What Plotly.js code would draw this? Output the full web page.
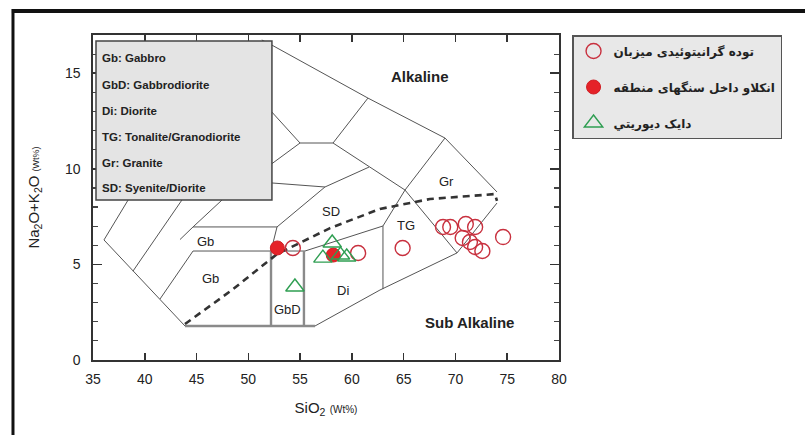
<!DOCTYPE html>
<html><head><meta charset="utf-8">
<script src="https://cdn.plot.ly/plotly-3.0.1.min.js"></script>
<style>html,body{margin:0;padding:0;background:#fff}#chart{width:805px;height:435px}</style>
</head><body><div id="chart"></div>
<script>
// ---- sample data (SiO2 wt%, Na2O+K2O wt%) ----
const hostName = 'توده گرانیتوئیدی میزبان';
const hostSiO2 = [54.3, 60.6, 64.9, 68.8, 69.5, 71.0, 71.9, 70.7, 71.4, 71.9, 72.6, 74.6];
const hostAlk  = [5.86, 5.60, 5.86, 6.96, 6.96, 7.11, 6.96, 6.38, 6.17, 5.91, 5.70, 6.43];
const enclaveName = 'انکلاو داخل سنگهای منطقه';
const enclaveSiO2 = [52.8, 58.2];
const enclaveAlk  = [5.86, 5.49];
const dykeName = 'دایک دیوریتي';
const dykeSiO2 = [58.1, 57.2, 58.9, 59.5, 54.5];
const dykeAlk  = [6.12, 5.33, 5.49, 5.39, 3.82];

// ---- classification field boundaries (null = pen up) ----
const fieldX = [51.3, 52.28, 61.55, 68.99, 74.01, null,
                74.01, 70.15, 62.71, 56.44, null,
                43.88, 36.06, 38.57, 39.06, null,
                61.55, 58.18, 54.99, 51.3, null,
                54.99, 51.3, null,
                58.18, 65.13, 70.15, null,
                68.99, 65.13, 63.0, 63.0, null,
                51.32, 52.28, 57.40, 61.65, null,
                57.40, 52.77, 52.19, null,
                52.77, 44.66, 43.4, null,
                47.46, 44.66, null,
                44.66, 55.47, 63.0, null,
                44.66, 41.47, null,
                43.59, 38.86];
const fieldY = [16.74, 16.47, 13.70, 11.61, 8.79, null,
                8.21, 5.60, 3.66, 1.78, null,
                1.78, 6.28, 8.53, 8.89, null,
                13.70, 11.35, 11.35, 13.55, null,
                11.35, 9.88, null,
                11.35, 8.89, 5.60, null,
                11.61, 8.89, 7.01, 3.71, null,
                9.26, 9.26, 9.05, 10.09, null,
                9.05, 6.96, 5.70, null,
                6.96, 6.96, 6.3, null,
                8.37, 6.96, null,
                5.70, 5.70, 7.01, null,
                5.70, 3.19, null,
                8.37, 4.65];
const baseX = [43.88, 56.44, null, 52.19, 52.19, null, 55.37, 55.37];
const baseY = [1.78, 1.78, null, 5.70, 1.78, null, 5.70, 1.78];
// alkaline / sub-alkaline divider
const dividerX = [43.88, 48.42, 52.77, 57.89, 62.71, 67.54, 73.82, 74.01];
const dividerY = [1.88, 3.66, 5.54, 6.90, 7.90, 8.42, 8.68, 8.32];

const fieldLabels = ['Gb', 'Gb', 'GbD', 'Di', 'SD', 'TG', 'Gr'];
const fieldLabelX = [45.9, 46.3, 53.75, 59.15, 57.98, 65.22, 69.18];
const fieldLabelY = [6.22, 4.24, 2.62, 3.61, 7.79, 7.01, 9.36];

const keyLines = ['Gb: Gabbro', 'GbD: Gabbrodiorite', 'Di: Diorite',
                  'TG: Tonalite/Granodiorite', 'Gr: Granite', 'SD: Syenite/Diorite'];
const keyLineY = [15.79, 14.38, 13.02, 11.66, 10.30, 9.0];

const seriesLabels = ['Alkaline', 'Sub Alkaline'];
const seriesLabelX = [66.6, 71.4];
const seriesLabelY = [14.85, 1.94];

const traces = [
  {x: fieldX, y: fieldY, mode: 'lines', line: {color: '#555', width: 1}, showlegend: false, hoverinfo: 'skip'},
  {x: baseX, y: baseY, mode: 'lines', line: {color: '#8a8a8a', width: 2.4}, showlegend: false, hoverinfo: 'skip'},
  {x: dividerX, y: dividerY, mode: 'lines', line: {color: '#333', width: 2.6, dash: '7px,5px'}, showlegend: false, hoverinfo: 'skip'},
  {x: hostSiO2, y: hostAlk, mode: 'markers', name: '<b>' + hostName + '</b>', legendgroup: 'a',
   marker: {symbol: 'circle-open', size: 15, color: '#c8303e', line: {width: 1.4}}},
  {x: enclaveSiO2, y: enclaveAlk, mode: 'markers', name: '<b>' + enclaveName + '</b>', legendgroup: 'b',
   marker: {symbol: 'circle', size: 14, color: '#e52228', line: {width: 1, color: '#d01e24'}}},
  {x: dykeSiO2, y: dykeAlk, mode: 'markers', name: '<b>' + dykeName + '</b>', legendgroup: 'c',
   marker: {symbol: 'triangle-up-open', size: 16, color: '#2f9e52', line: {width: 1.4}}}
];

const annotations = [];
fieldLabels.forEach((t, i) => annotations.push({x: fieldLabelX[i], y: fieldLabelY[i], xref: 'x', yref: 'y', text: t,
  showarrow: false, font: {family: 'Arial, Liberation Sans', size: 13, color: '#222'}}));
keyLines.forEach((t, i) => annotations.push({x: 35.7, y: keyLineY[i], xref: 'x', yref: 'y', text: '<b>' + t + '</b>',
  xanchor: 'left', showarrow: false, font: {family: 'Arial, Liberation Sans', size: 11.5, color: '#222'}}));
seriesLabels.forEach((t, i) => annotations.push({x: seriesLabelX[i], y: seriesLabelY[i], xref: 'x', yref: 'y', text: '<b>' + t + '</b>',
  showarrow: false, font: {family: 'Arial, Liberation Sans', size: 15, color: '#222'}}));

const layout = {
  width: 805, height: 435,
  margin: {l: 93, r: 246, t: 35, b: 75},
  paper_bgcolor: '#fff', plot_bgcolor: '#fff',
  font: {family: 'Arial, Liberation Sans', color: '#222'},
  xaxis: {range: [35, 80], tick0: 35, dtick: 5, ticks: 'inside', ticklen: 7, tickwidth: 1.5, tickcolor: '#333',
    showline: true, linecolor: '#333', linewidth: 1.6, mirror: 'allticks', showgrid: false, zeroline: false,
    tickfont: {size: 14, color: '#222'}, ticklabelstandoff: 6,
    title: {text: 'SiO<sub>2</sub> <span style="font-size:10px">(Wt%)</span>', font: {size: 15, color: '#222'}, standoff: 16}},
  yaxis: {range: [0, 17], tick0: 0, dtick: 5, ticks: 'inside', ticklen: 9, tickwidth: 1.5, tickcolor: '#333',
    minor: {dtick: 1, ticks: 'inside', ticklen: 5, tickwidth: 1.2, tickcolor: '#444'},
    showline: true, linecolor: '#333', linewidth: 1.6, mirror: 'allticks', showgrid: false, zeroline: false,
    tickfont: {size: 14, color: '#222'}, ticklabelstandoff: 8,
    title: {text: 'Na<sub>2</sub>O+K<sub>2</sub>O <span style="font-size:9px">(Wt%)</span>', font: {size: 15, color: '#222'}, standoff: 22}},
  shapes: [
    {type: 'rect', xref: 'x', yref: 'y', x0: 35.29, x1: 52.28, y0: 8.37, y1: 16.68, layer: 'above',
     fillcolor: '#e4e4e4', line: {color: '#444', width: 1.5}},
    {type: 'line', xref: 'paper', yref: 'paper', x0: -0.174, x1: 1.53, y0: 1.0738, y1: 1.0738, line: {color: '#111', width: 4}},
    {type: 'line', xref: 'paper', yref: 'paper', x0: -0.1717, x1: -0.1717, y0: 1.08, y1: -0.24, line: {color: '#111', width: 3}}
  ],
  annotations: annotations,
  showlegend: true,
  legend: {x: 1.028, y: 1.0, xanchor: 'left', yanchor: 'top', bgcolor: '#e8e8e8', bordercolor: '#555', borderwidth: 1.5,
    font: {family: 'DejaVu Sans', size: 12, color: '#222'}, tracegroupgap: 17, traceorder: 'grouped',
    itemsizing: 'trace', entrywidth: 200, entrywidthmode: 'pixels'}
};

Plotly.newPlot('chart', traces, layout, {displayModeBar: false, staticPlot: true});
</script></body></html>
